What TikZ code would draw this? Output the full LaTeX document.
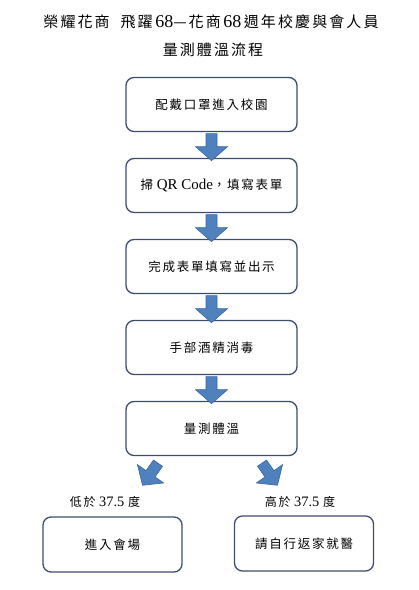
\documentclass[tikz,border=0pt]{standalone}
\usepackage{fontspec}
\setmainfont{Noto Sans CJK TC}
\newfontfamily\cjkls[LetterSpace=14]{Noto Sans CJK TC}
\newfontfamily\lat[Scale=1.2]{Liberation Serif}
\definecolor{boxline}{HTML}{3E4C6E}
\definecolor{arrfill}{HTML}{4F81BD}
\definecolor{arrline}{HTML}{3A679E}
\begin{document}
\begin{tikzpicture}[x=1pt,y=-1pt,
  stepbox/.style={draw=boxline,line width=1.3pt,rounded corners=8pt,minimum width=171pt,minimum height=54pt,inner sep=0pt,font=\cjkls\fontsize{12.5}{14}\selectfont},
  endbox/.style={stepbox,minimum width=139pt,minimum height=55pt},
  lbl/.style={font=\cjkls\fontsize{12}{14}\selectfont,inner sep=0pt},
  ttl/.style={font=\cjkls\fontsize{15}{17}\selectfont,inner sep=0pt},
  barrow/.pic={\path[fill=arrfill,draw=arrline,line width=0.6pt] (-5.5,0) -- (5.5,0) -- (5.5,13) -- (16,13) -- (0,27) -- (-16,13) -- (-5.5,13) -- cycle;}
]
\useasboundingbox (0,0) rectangle (419,590);
\node[ttl] (t1) at (211,22) {榮耀花商\ \ 飛躍\,{\lat 68}—花商\,{\lat 68}\,週年校慶與會人員};
\node[ttl] (t2) at (213,50) {量測體溫流程};
\node[stepbox] (b1) at (211.5,104.5) {配戴口罩進入校園};
\node[stepbox] (b2) at (211.5,185.5) {掃{\lat\ QR Code}，填寫表單};
\node[stepbox] (b3) at (211.5,266.5) {完成表單填寫並出示};
\node[stepbox] (b4) at (211.5,347.5) {手部酒精消毒};
\node[stepbox] (b5) at (211.5,428.5) {量測體溫};
\node[lbl] (l1) at (105,502) {低於{\lat\ 37.5 }度};
\node[lbl] (l2) at (300,502) {高於{\lat\ 37.5 }度};
\node[endbox] (e1) at (112.5,544.5) {進入會場};
\node[endbox] (e2) at (304,543.5) {請自行返家就醫};
\pic at ([yshift=-1.5pt]b1.south) {barrow};
\pic at ([yshift=-1.5pt]b2.south) {barrow};
\pic at ([yshift=-1.5pt]b3.south) {barrow};
\pic at ([yshift=-1.5pt]b4.south) {barrow};
\coordinate (dl) at ([shift={(-53.5,7)}]b5.south);
\coordinate (dr) at ([shift={(50.5,7)}]b5.south);
\pic[rotate=-35] at (dl) {barrow};
\pic[rotate=35] at (dr) {barrow};
\end{tikzpicture}
\end{document}
